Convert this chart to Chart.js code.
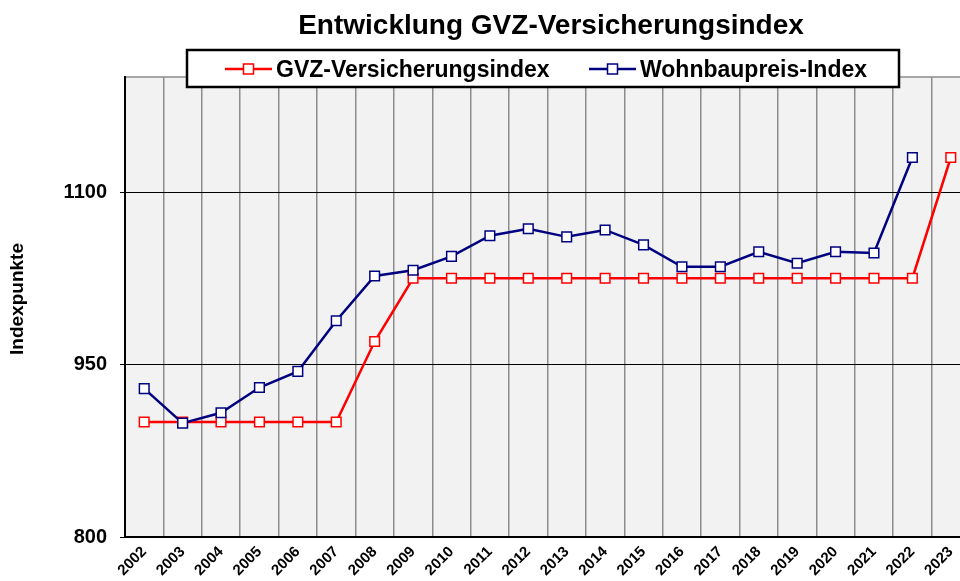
<!DOCTYPE html>
<html><head><meta charset="utf-8">
<script src="https://cdn.jsdelivr.net/npm/chart.js@4"></script>
<style>html,body{margin:0;padding:0;overflow:hidden;background:#fff;} canvas{display:block;}</style>
</head><body>
<canvas id="c" width="1100" height="581" style="width:1100px;height:581px"></canvas>
<script>
const titleText = 'Entwicklung GVZ-Versicherungsindex';
const yTitle = 'Indexpunkte';
const years = ['2002','2003','2004','2005','2006','2007','2008','2009','2010','2011','2012','2013','2014','2015','2016','2017','2018','2019','2020','2021','2022','2023'];
const gvzIndex = [900,900,900,900,900,900,970,1025,1025,1025,1025,1025,1025,1025,1025,1025,1025,1025,1025,1025,1025,1130];
const wohnbauIndex = [929,899,908,930,944,988,1027,1032,1044,1062,1068,1061,1067,1054,1035,1035,1048,1038,1048,1047,1130,null];
const yTicks = [800,950,1100];
const yMin = 800, yMax = 1200;

const FONT = "'Liberation Sans', Arial, sans-serif";
Chart.defaults.font.family = FONT;
Chart.defaults.color = '#000';

const overlay = {
  id: 'overlay',
  beforeDraw(chart) {
    const {ctx, chartArea: a} = chart;
    ctx.save();
    ctx.fillStyle = '#f2f2f2';
    ctx.fillRect(a.left, a.top, a.right - a.left, a.bottom - a.top);
    ctx.strokeStyle = '#8c8c8c';
    ctx.lineWidth = 1.5;
    ctx.beginPath(); ctx.moveTo(a.left, a.top); ctx.lineTo(a.right, a.top); ctx.stroke();
    ctx.restore();
  },
  afterDraw(chart) {
    const ctx = chart.ctx;
    ctx.save();
    // title
    ctx.fillStyle = '#000';
    ctx.font = 'bold 28px ' + FONT;
    ctx.textAlign = 'center';
    ctx.textBaseline = 'alphabetic';
    ctx.fillText(titleText, 551, 34);
    // legend box
    ctx.fillStyle = '#fff';
    ctx.fillRect(187, 50, 712, 37);
    ctx.strokeStyle = '#000';
    ctx.lineWidth = 2.5;
    ctx.strokeRect(187, 50, 712, 37);
    ctx.font = 'bold 23px ' + FONT;
    ctx.textAlign = 'left';
    const starts = [225, 589];
    const yMid = 69;
    chart.data.datasets.forEach((ds, i) => {
      const x = starts[i];
      ctx.strokeStyle = ds.borderColor;
      ctx.lineWidth = 2.5;
      ctx.beginPath(); ctx.moveTo(x, yMid); ctx.lineTo(x + 47, yMid); ctx.stroke();
      ctx.fillStyle = '#fff';
      ctx.lineWidth = 1.5;
      ctx.fillRect(x + 18.5, yMid - 5, 10, 10);
      ctx.strokeRect(x + 18.5, yMid - 5, 10, 10);
      ctx.fillStyle = '#000';
      ctx.fillText(ds.label, x + 51, 76.5);
    });
    // y axis title
    ctx.font = 'bold 19px ' + FONT;
    ctx.translate(18, 299);
    ctx.rotate(-Math.PI / 2);
    ctx.textAlign = 'center';
    ctx.textBaseline = 'middle';
    ctx.fillText(yTitle, 0, 0);
    ctx.restore();
  }
};

new Chart(document.getElementById('c'), {
  type: 'line',
  data: {
    labels: years,
    datasets: [
      { label: 'GVZ-Versicherungsindex', data: gvzIndex, borderColor: '#ff0000', backgroundColor: '#fff',
        borderWidth: 2.5, pointStyle: 'rect', pointRadius: 6.8, pointBorderWidth: 1.5,
        pointBackgroundColor: '#fff', pointBorderColor: '#ff0000', tension: 0, order: 1 },
      { label: 'Wohnbaupreis-Index', data: wohnbauIndex, borderColor: '#000080', backgroundColor: '#fff',
        borderWidth: 2.5, pointStyle: 'rect', pointRadius: 6.8, pointBorderWidth: 1.5,
        pointBackgroundColor: '#fff', pointBorderColor: '#000080', tension: 0, order: 0 }
    ]
  },
  options: {
    responsive: false,
    animation: false,
    layout: { padding: { left: 0, right: 130, top: 77, bottom: 0 } },
    plugins: { legend: { display: false }, title: { display: false }, tooltip: { enabled: false } },
    scales: {
      x: {
        type: 'category',
        offset: true,
        grid: { offset: true, color: '#8c8c8c', lineWidth: 1.5, drawTicks: false },
        border: { color: '#000', width: 2 },
        ticks: { font: { size: 15, weight: 'bold' }, color: '#000', minRotation: 45, maxRotation: 45, autoSkip: false, padding: 6 },
        afterFit(s) { s.height = 44; }
      },
      y: {
        min: yMin, max: yMax,
        afterBuildTicks(s) { s.ticks = yTicks.map(v => ({ value: v })); },
        grid: { color: '#000', lineWidth: 1, tickLength: 5, drawTicks: true },
        border: { color: '#000', width: 2 },
        ticks: { font: { size: 20, weight: 'bold' }, color: '#000', padding: 13, callback: v => String(v) },
        title: { display: false },
        afterFit(s) { s.width = 125; }
      }
    }
  },
  plugins: [overlay]
});
</script>
</body></html>
